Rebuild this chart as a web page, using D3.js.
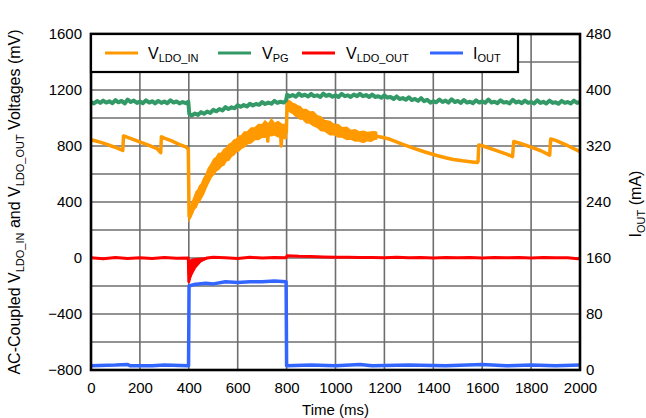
<!DOCTYPE html>
<html>
<head>
<meta charset="utf-8">
<script src="https://cdn.jsdelivr.net/npm/d3@7"></script>
<style>
  html, body { margin: 0; padding: 0; background: #fff; }
  svg { display: block; font-family: "Liberation Sans", Arial, Helvetica, sans-serif; }
</style>
</head>
<body>
<svg id="chart" width="646" height="418"></svg>
<script>
// ---------------- data ----------------
const timeTicks = [0, 200, 400, 600, 800, 1000, 1200, 1400, 1600, 1800, 2000];
const voltTicks = [-800, -400, 0, 400, 800, 1200, 1600];
const voltGrid = [-800, -600, -400, -200, 0, 200, 400, 600, 800, 1000, 1200, 1400, 1600];
const currTicks = [0, 80, 160, 240, 320, 400, 480];

// V_LDO_IN (mV) : [time ms, value]
const vLdoIn = [
  [0,845],[20,836],[40,826],[60,815],[80,802],[100,790],[120,776],[130,768],[133,872],[150,862],
  [180,842],[210,822],[240,802],[270,782],[285,752],[288,866],[300,856],[330,836],[360,812],[390,792],
  [398,776],[401,300],[403,295],[412,350],[424,400],[437,440],[451,474],[470,550],[492,629],[512,670],
  [533,700],[554,738],[574,771],[595,805],[615,831],[640,860],[670,890],[700,910],[720,918],[723,835],
  [726,918],[738,926],[765,922],[775,912],[778,800],[781,910],[792,902],[799,900],[802,1110],[815,1095],
  [835,1070],[855,1045],[880,1020],[909,998],[940,965],[977,930],[1010,910],[1046,890],[1080,878],[1114,867],
  [1140,868],[1165,878],[1172,868],[1190,862],[1223,848],[1270,815],[1318,785],[1366,757],[1414,732],[1450,716],
  [1482,704],[1520,694],[1550,688],[1580,682],[1583,690],[1586,808],[1600,802],[1650,772],[1700,742],[1724,724],
  [1729,832],[1760,816],[1800,792],[1840,766],[1876,735],[1880,850],[1900,840],[1950,802],[2000,760]
];
// V_LDO_IN ripple band (mV) : [time, low, high]
const vLdoInBand = [
  [401,270,330],[408,292,372],[415,318,404],[422,348,436],[430,362,474],[437,392,486],[445,408,518],
  [451,428,526],[460,456,566],[470,498,596],[480,536,640],[492,578,672],[502,596,706],[512,622,718],
  [522,632,746],[533,656,748],[543,664,774],[554,694,786],[564,700,812],[574,726,820],[584,736,842],
  [595,758,848],[605,766,872],[615,784,874],[627,794,900],[640,816,902],[655,822,928],[670,846,930],
  [685,846,954],[700,864,952],[712,862,980],[725,876,956],[738,874,992],[750,880,962],[765,866,974],
  [780,866,956],[792,852,954],[799,854,942],
  [803,1060,1130],[815,1042,1118],[825,1034,1104],[835,1016,1098],[845,1008,1086],[855,992,1082],
  [865,994,1062],[880,966,1060],[895,964,1042],[909,946,1044],[925,934,1016],[940,910,1008],
  [955,908,982],[977,880,976],[995,882,952],[1010,864,954],[1028,864,930],[1046,846,934],
  [1063,850,910],[1080,836,916],[1097,836,900],[1114,826,906],[1130,838,896],[1145,834,900],
  [1160,848,902],[1168,850,898]
];
// V_PG (mV)
const vPg = [
  [0,1115],[12,1104],[25,1121],[38,1108],[50,1124],[62,1110],[75,1119],[88,1106],[100,1128],[112,1112],
  [125,1122],[138,1104],[150,1132],[162,1114],[175,1124],[188,1108],[200,1118],[212,1106],[225,1126],[238,1110],
  [250,1120],[262,1104],[275,1122],[288,1108],[300,1118],[312,1106],[325,1126],[338,1110],[350,1118],[362,1104],
  [375,1114],[388,1106],[398,1116],[402,1030],[412,1018],[425,1032],[438,1022],[450,1042],[462,1030],[475,1046],
  [488,1036],[500,1058],[512,1048],[525,1064],[538,1054],[550,1078],[562,1064],[575,1076],[588,1070],[600,1092],
  [612,1080],[625,1092],[638,1082],[650,1102],[662,1090],[675,1100],[688,1094],[700,1114],[712,1100],[725,1110],
  [738,1102],[750,1122],[762,1108],[775,1116],[788,1110],[798,1126],[802,1166],[812,1154],[825,1164],[838,1152],
  [850,1174],[862,1158],[875,1166],[888,1154],[900,1172],[912,1156],[925,1162],[938,1150],[950,1174],[962,1158],
  [975,1166],[988,1152],[1000,1162],[1012,1150],[1025,1172],[1038,1156],[1050,1162],[1062,1150],[1075,1168],[1088,1156],
  [1100,1172],[1112,1156],[1125,1164],[1138,1150],[1150,1168],[1162,1150],[1175,1156],[1188,1144],[1200,1162],[1212,1146],
  [1225,1150],[1238,1136],[1250,1154],[1262,1136],[1275,1142],[1288,1130],[1300,1148],[1312,1128],[1325,1136],[1338,1122],
  [1350,1142],[1362,1120],[1375,1130],[1388,1110],[1400,1120],[1412,1112],[1425,1132],[1438,1114],[1450,1124],[1462,1110],
  [1475,1134],[1488,1114],[1500,1122],[1512,1108],[1525,1128],[1538,1110],[1550,1116],[1562,1106],[1575,1126],[1588,1110],
  [1600,1120],[1612,1108],[1625,1132],[1638,1110],[1650,1116],[1662,1106],[1675,1126],[1688,1110],[1700,1114],[1712,1104],
  [1725,1130],[1738,1110],[1750,1118],[1762,1106],[1775,1124],[1788,1108],[1800,1114],[1812,1104],[1825,1126],[1838,1108],
  [1850,1116],[1862,1104],[1875,1124],[1888,1108],[1900,1112],[1912,1102],[1925,1122],[1938,1108],[1950,1114],[1962,1104],
  [1975,1124],[1988,1108],[2000,1114]
];
// V_LDO_OUT (mV)
const vLdoOut = [
  [0,2],[50,-5],[100,3],[150,-4],[200,2],[250,-3],[300,4],[350,-2],[398,0],[400,-170],
  [405,-130],[415,-80],[430,-40],[450,-15],[475,0],[500,6],[550,2],[600,-3],[650,5],[700,0],
  [750,3],[798,2],[802,16],[850,12],[900,10],[950,8],[1000,6],[1050,5],[1100,3],[1150,4],
  [1200,2],[1250,5],[1300,1],[1350,4],[1400,0],[1450,3],[1500,1],[1550,4],[1600,0],[1650,3],
  [1700,1],[1750,4],[1800,0],[1850,3],[1900,1],[1950,2],[1990,-6],[2000,0]
];
// V_LDO_OUT transient band (mV) : [time, low, high]
const vLdoOutBand = [
  [400,-185,-20],[405,-160,-10],[415,-120,-4],[430,-72,0],[450,-32,3],[475,-8,5],[500,0,6]
];
// I_OUT (mA)
const iOut = [
  [0,6],[100,7],[150,8],[160,6],[250,6],[300,7],[399,6],[401,120],[420,122],[470,124],
  [500,123],[550,126],[600,125],[650,126],[700,126],[750,127],[798,126],[800,6],[900,7],[1000,6],
  [1100,8],[1150,6],[1300,7],[1450,6],[1600,8],[1700,6],[1800,7],[1900,6],[2000,7]
];

const seriesNames = ["LDO_IN", "PG", "LDO_OUT", "OUT"];
const colors = { in: "#ff9900", pg: "#339966", out: "#ff0000", iout: "#3366ff" };

// ---------------- chart ----------------
const svg = d3.select("#chart");
const L = 91, R = 580, T = 34, B = 370;
const x = d3.scaleLinear().domain([0, 2000]).range([L, R]);
const yV = d3.scaleLinear().domain([-800, 1600]).range([B, T]);
const yI = d3.scaleLinear().domain([0, 480]).range([B, T]);

// grid
const grid = svg.append("g");
grid.selectAll("line.v").data(timeTicks).join("line")
  .attr("x1", d => x(d)).attr("x2", d => x(d)).attr("y1", T).attr("y2", B)
  .attr("stroke", "#6e6e6e").attr("stroke-width", 1.6);
grid.selectAll("line.h").data(voltGrid).join("line")
  .attr("x1", L).attr("x2", R).attr("y1", d => yV(d)).attr("y2", d => yV(d))
  .attr("stroke", "#6e6e6e").attr("stroke-width", 1.6);

// traces
const lineV = d3.line().x(d => x(d[0])).y(d => yV(d[1]));
const lineI = d3.line().x(d => x(d[0])).y(d => yI(d[1]));
const areaV = d3.area().x(d => x(d[0])).y0(d => yV(d[1])).y1(d => yV(d[2]));

svg.append("path").datum(iOut).attr("d", lineI)
  .attr("fill", "none").attr("stroke", colors.iout).attr("stroke-width", 3.5).attr("stroke-linejoin", "round");

svg.append("path").datum(vLdoInBand).attr("d", areaV).attr("fill", colors.in)
  .attr("stroke", colors.in).attr("stroke-width", 1.5);
svg.append("path").datum(vLdoIn).attr("d", lineV)
  .attr("fill", "none").attr("stroke", colors.in).attr("stroke-width", 3.5).attr("stroke-linejoin", "round");

svg.append("path").datum(vPg).attr("d", lineV)
  .attr("fill", "none").attr("stroke", colors.pg).attr("stroke-width", 4).attr("stroke-linejoin", "round");

svg.append("path").datum(vLdoOutBand).attr("d", areaV).attr("fill", colors.out);
svg.append("path").datum(vLdoOut).attr("d", lineV)
  .attr("fill", "none").attr("stroke", colors.out).attr("stroke-width", 3).attr("stroke-linejoin", "round");

// axes
const fs = "15px";
const axL = svg.append("g").attr("transform", `translate(${L},0)`)
  .call(d3.axisLeft(yV).tickValues(voltTicks).tickSize(0).tickPadding(9).tickFormat(d3.format("d")));
const axR = svg.append("g").attr("transform", `translate(${R},0)`)
  .call(d3.axisRight(yI).tickValues(currTicks).tickSize(0).tickPadding(6).tickFormat(d3.format("d")));
const axB = svg.append("g").attr("transform", `translate(0,${B})`)
  .call(d3.axisBottom(x).tickValues(timeTicks).tickSize(0).tickPadding(12).tickFormat(d3.format("d")));
[axL, axR, axB].forEach(a => {
  a.select(".domain").remove();
  a.selectAll("text").attr("font-size", fs).attr("fill", "#000")
    .attr("font-family", "'Liberation Sans', Arial, sans-serif");
});

// frame
svg.append("rect").attr("x", L).attr("y", T).attr("width", R - L).attr("height", B - T)
  .attr("fill", "none").attr("stroke", "#000").attr("stroke-width", 2.6);

// axis titles
svg.append("text").attr("x", (L + R) / 2).attr("y", 415).attr("text-anchor", "middle")
  .attr("font-size", "15px").text("Time (ms)");

const yTitle = svg.append("text").attr("transform", "translate(20,202) rotate(-90)")
  .attr("text-anchor", "middle");
yTitle.append("tspan").attr("font-size", "16px").text("AC-Coupled V");
yTitle.append("tspan").attr("font-size", "11px").attr("dy", 4).text("LDO_IN");
yTitle.append("tspan").attr("font-size", "16px").attr("dy", -4).text(" and V");
yTitle.append("tspan").attr("font-size", "11px").attr("dy", 4).text("LDO_OUT");
yTitle.append("tspan").attr("font-size", "16px").attr("dy", -4).text(" Voltages (mV)");

const rTitle = svg.append("text").attr("transform", "translate(641,204) rotate(-90)")
  .attr("text-anchor", "middle");
rTitle.append("tspan").attr("font-size", "16px").text("I");
rTitle.append("tspan").attr("font-size", "11px").attr("dy", 4).text("OUT");
rTitle.append("tspan").attr("font-size", "16px").attr("dy", -4).text(" (mA)");

// legend
const lg = svg.append("g");
lg.append("rect").attr("x", L).attr("y", T).attr("width", 427).attr("height", 38)
  .attr("fill", "#fff").attr("stroke", "#000").attr("stroke-width", 2.2);
const legendItems = [
  { c: colors.in, sub: seriesNames[0], main: "V", x0: 105, tx: 148 },
  { c: colors.pg, sub: seriesNames[1], main: "V", x0: 218, tx: 262 },
  { c: colors.out, sub: seriesNames[2], main: "V", x0: 302, tx: 346 },
  { c: colors.iout, sub: seriesNames[3], main: "I", x0: 430, tx: 473 }
];
legendItems.forEach(it => {
  lg.append("line").attr("x1", it.x0).attr("x2", it.x0 + 33).attr("y1", 53).attr("y2", 53)
    .attr("stroke", it.c).attr("stroke-width", 3);
  const t = lg.append("text").attr("x", it.tx).attr("y", 59);
  t.append("tspan").attr("font-size", "16px").text(it.main);
  t.append("tspan").attr("font-size", "11px").attr("dy", 3).text(it.sub);
});
</script>
</body>
</html>
